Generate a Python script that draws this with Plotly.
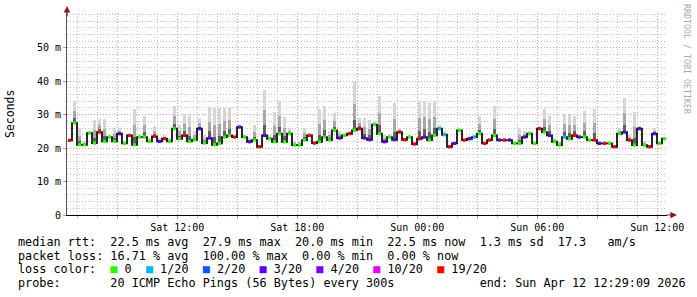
import plotly.graph_objects as go
import pandas as pd

# ---------------- data ----------------
start = pd.Timestamp("2026-04-11 06:29:09")
end = pd.Timestamp("2026-04-12 12:29:09")
step = pd.Timedelta(minutes=15)

median_ms = [
    22.3, 27.5, 21.0, 21.0, 24.5, 21.5, 24.8, 22.0, 23.3, 22.0, 24.3, 21.4, 23.8, 21.0, 23.3,
    23.3, 22.0, 23.5, 22.0, 22.8, 22.0, 25.8, 22.8, 23.8, 22.0, 22.5, 25.8, 21.5, 23.0, 21.0,
    21.4, 23.3, 23.8, 23.3, 26.3, 23.3, 21.9, 22.4, 20.4, 23.8, 22.8, 21.9, 24.3, 21.9, 24.3,
    20.9, 20.9, 22.4, 23.8, 21.5, 21.9, 23.3, 22.4, 25.3, 23.0, 23.8, 24.3, 25.3, 25.8, 23.0,
    22.5, 27.0, 24.3, 21.9, 23.3, 22.5, 24.8, 22.5, 23.3, 21.2, 22.8, 23.3, 22.4, 23.8, 25.8,
    24.0, 20.4, 21.4, 25.3, 22.4, 22.8, 23.3, 24.3, 21.4, 22.4, 23.8, 22.4, 22.4, 22.4, 21.4,
    21.4, 23.3, 24.3, 21.4, 25.8, 24.8, 23.8, 21.9, 20.9, 23.3, 22.8, 23.8, 23.3, 23.3, 22.4,
    22.4, 21.4, 21.4, 21.4, 20.4, 24.3, 24.8, 22.4, 20.9, 25.8, 20.9, 20.4, 24.3, 21.4, 22.8,
]
smoke_top_ms = [
    23.0, 34.0, 26.0, 22.0, 25.0, 28.5, 28.7, 28.7, 24.0, 26.0, 26.0, 22.0, 24.0, 31.7, 24.0,
    29.7, 23.0, 26.5, 23.0, 24.0, 23.0, 32.6, 27.0, 30.2, 29.7, 25.0, 28.7, 24.0, 32.0, 32.0,
    32.0, 32.0, 32.0, 24.0, 27.0, 24.0, 23.0, 27.0, 21.0, 37.5, 24.0, 30.7, 34.0, 29.2, 26.0,
    22.0, 22.0, 26.0, 24.5, 22.0, 31.7, 32.6, 25.0, 30.5, 25.0, 24.5, 25.0, 39.7, 29.0, 29.0,
    28.5, 28.0, 35.6, 24.0, 24.0, 33.6, 26.0, 23.0, 24.0, 22.0, 34.0, 34.0, 33.6, 34.0, 27.0,
    25.0, 21.0, 22.0, 26.0, 23.0, 23.5, 24.0, 29.7, 22.0, 23.0, 32.6, 23.0, 23.0, 23.0, 22.0,
    26.0, 25.0, 25.0, 22.0, 26.5, 31.7, 29.7, 23.0, 22.0, 30.2, 30.2, 29.7, 24.0, 31.2, 23.0,
    31.7, 22.0, 22.0, 22.0, 21.0, 26.0, 35.0, 24.0, 30.7, 26.5, 22.0, 21.0, 26.0, 22.0, 23.0,
]
loss_pings = [
    19, 0, 0, 0, 0, 0, 19, 0, 0, 0, 3, 0, 19, 0, 0,
    0, 0, 19, 3, 19, 0, 0, 0, 19, 0, 0, 3, 0, 3, 0,
    0, 0, 0, 19, 3, 0, 3, 0, 19, 3, 0, 0, 0, 0, 0,
    0, 0, 0, 19, 19, 0, 0, 0, 0, 3, 0, 19, 0, 19, 3,
    3, 0, 0, 3, 0, 3, 19, 19, 0, 19, 19, 3, 0, 0, 1,
    1, 19, 3, 0, 19, 3, 1, 0, 19, 19, 0, 3, 19, 3, 0,
    0, 3, 0, 0, 19, 0, 3, 0, 0, 1, 0, 19, 3, 0, 0,
    19, 3, 19, 0, 19, 0, 3, 19, 0, 3, 0, 19, 3, 0, 0,
]

loss_levels = [0, 1, 2, 3, 4, 10, 19]
loss_labels = ["0", "1/20", "2/20", "3/20", "4/20", "10/20", "19/20"]
loss_colors = ["#26ff00", "#00b8ff", "#0059ff", "#5e00ff", "#7e00ff", "#dd00ff", "#ff0000"]

y_tick_vals = [0, 10, 20, 30, 40, 50]
y_tick_text = ["0", "10 m", "20 m", "30 m", "40 m", "50 m"]

x_major_vals = pd.date_range("2026-04-11 09:00", "2026-04-12 12:00", freq="3h")
x_label_hours = {0: "00:00", 6: "06:00", 12: "12:00", 18: "18:00"}

stats_lines = [
    "median rtt:  22.5 ms avg  27.9 ms max  20.0 ms min  22.5 ms now  1.3 ms sd  17.3   am/s",
    "packet loss: 16.71 % avg  100.00 % max  0.00 % min  0.00 % now",
    "probe:       20 ICMP Echo Pings (56 Bytes) every 300s            end: Sun Apr 12 12:29:09 2026",
]
loss_prefix = "loss color:  "

# ---------------- figure ----------------
times = [start + step * (i + 0.5) for i in range(len(median_ms))]
color_map = dict(zip(loss_levels, loss_colors))
pt_colors = [color_map[v] for v in loss_pings]

fig = go.Figure()

bar_w = 10 * 60 * 1000
layers = [(1.0, "#d6d6d6"), (0.55, "#a8a8a8"), (0.22, "#606060")]
for frac, col in layers:
    fig.add_trace(go.Bar(
        x=times,
        base=median_ms,
        y=[(t - m) * frac for t, m in zip(smoke_top_ms, median_ms)],
        width=bar_w,
        marker=dict(color=col, line=dict(width=0)),
        hoverinfo="skip",
    ))

fig.add_trace(go.Scatter(
    x=times, y=median_ms, mode="lines",
    line=dict(color="#111111", width=1.8, shape="hvh"),
    hoverinfo="skip",
))
fig.add_trace(go.Scatter(
    x=times, y=median_ms, mode="markers",
    marker=dict(symbol="square", size=3.2, color=pt_colors,
                line=dict(width=0)),
    hoverinfo="skip",
))

mono = "DejaVu Sans Mono"
grid_red = "#e49a9a"
grid_gray = "#c4c4c4"

x_text = []
for t in x_major_vals:
    if t.hour in x_label_hours:
        x_text.append(t.strftime("%a ") + x_label_hours[t.hour])
    else:
        x_text.append("")

fig.update_layout(
    width=697, height=297,
    margin=dict(l=67, r=30, t=13, b=82),
    paper_bgcolor="white", plot_bgcolor="white",
    barmode="overlay", bargap=0, showlegend=False,
    font=dict(family=mono, size=10, color="#000000"),
)
fig.update_xaxes(
    type="date",
    range=[start, end],
    tickmode="array", tickvals=list(x_major_vals), ticktext=x_text,
    showgrid=True, gridcolor=grid_red, griddash="1px,2px", gridwidth=1,
    ticks="outside", ticklen=3, tickcolor="#d09090",
    minor=dict(tickmode="linear", tick0="2026-04-11 00:00", dtick=3600000,
               showgrid=True, gridcolor=grid_gray, griddash="1px,2px",
               ticks="outside", ticklen=2, tickcolor="#bbbbbb"),
    showline=True, linecolor="#000000", linewidth=1,
    tickfont=dict(family=mono, size=10, color="#000000"),
    zeroline=False,
)
fig.update_yaxes(
    range=[0, 60.4],
    tickmode="array", tickvals=y_tick_vals, ticktext=y_tick_text,
    showgrid=True, gridcolor=grid_red, griddash="1px,2px", gridwidth=1,
    ticks="outside", ticklen=3, tickcolor="#d09090",
    minor=dict(tickmode="linear", tick0=0, dtick=2,
               showgrid=True, gridcolor=grid_gray, griddash="1px,2px"),
    showline=True, linecolor="#555555", linewidth=1,
    tickfont=dict(family=mono, size=10, color="#000000"),
    zeroline=False,
)


def px_x(px):
    return (px - 67) / 600.0


def px_y(py):
    return (215 - py) / 202.0


NB = "\u00a0"
anns = []
# y title
anns.append(dict(x=px_x(10), y=px_y(114), xref="paper", yref="paper",
                 text="Seconds", textangle=-90, showarrow=False,
                 font=dict(family=mono, size=11.5, color="#000000"),
                 xanchor="center", yanchor="middle"))
# watermark
anns.append(dict(x=px_x(687), y=px_y(59), xref="paper", yref="paper",
                 text="RRDTOOL / TOBI OETIKER", textangle=90, showarrow=False,
                 font=dict(family=mono, size=8.3, color="#aaaaaa"),
                 xanchor="center", yanchor="middle"))
# axis arrows
anns.append(dict(x=px_x(677), y=px_y(215), xref="paper", yref="paper", text="",
                 showarrow=True, ax=-12, ay=0, arrowhead=2, arrowsize=1.1,
                 arrowwidth=1.2, arrowcolor="#8b1a1a"))
anns.append(dict(x=px_x(67), y=px_y(6), xref="paper", yref="paper", text="",
                 showarrow=True, ax=0, ay=12, arrowhead=2, arrowsize=1.1,
                 arrowwidth=1.2, arrowcolor="#8b1a1a"))

txt_font = dict(family=mono, size=11.8, color="#000000")
line_y = [242, 255.5, 283]
for s, py in zip(stats_lines, line_y):
    anns.append(dict(x=px_x(16), y=px_y(py), xref="paper", yref="paper",
                     text=s.replace(" ", NB), showarrow=False, font=txt_font,
                     xanchor="left", yanchor="middle", align="left"))

# loss color legend line (coloured squares inline)
legend_txt = loss_prefix.replace(" ", NB)
for i, (lab, col) in enumerate(zip(loss_labels, loss_colors)):
    if i > 0:
        legend_txt += NB * 2
    legend_txt += "<span style='color:%s'>\u25a0</span>" % col + NB + lab
anns.append(dict(x=px_x(16), y=px_y(269), xref="paper", yref="paper",
                 text=legend_txt, showarrow=False, font=txt_font,
                 xanchor="left", yanchor="middle", align="left"))

fig.update_layout(annotations=anns)
fig.write_html("out.html")
